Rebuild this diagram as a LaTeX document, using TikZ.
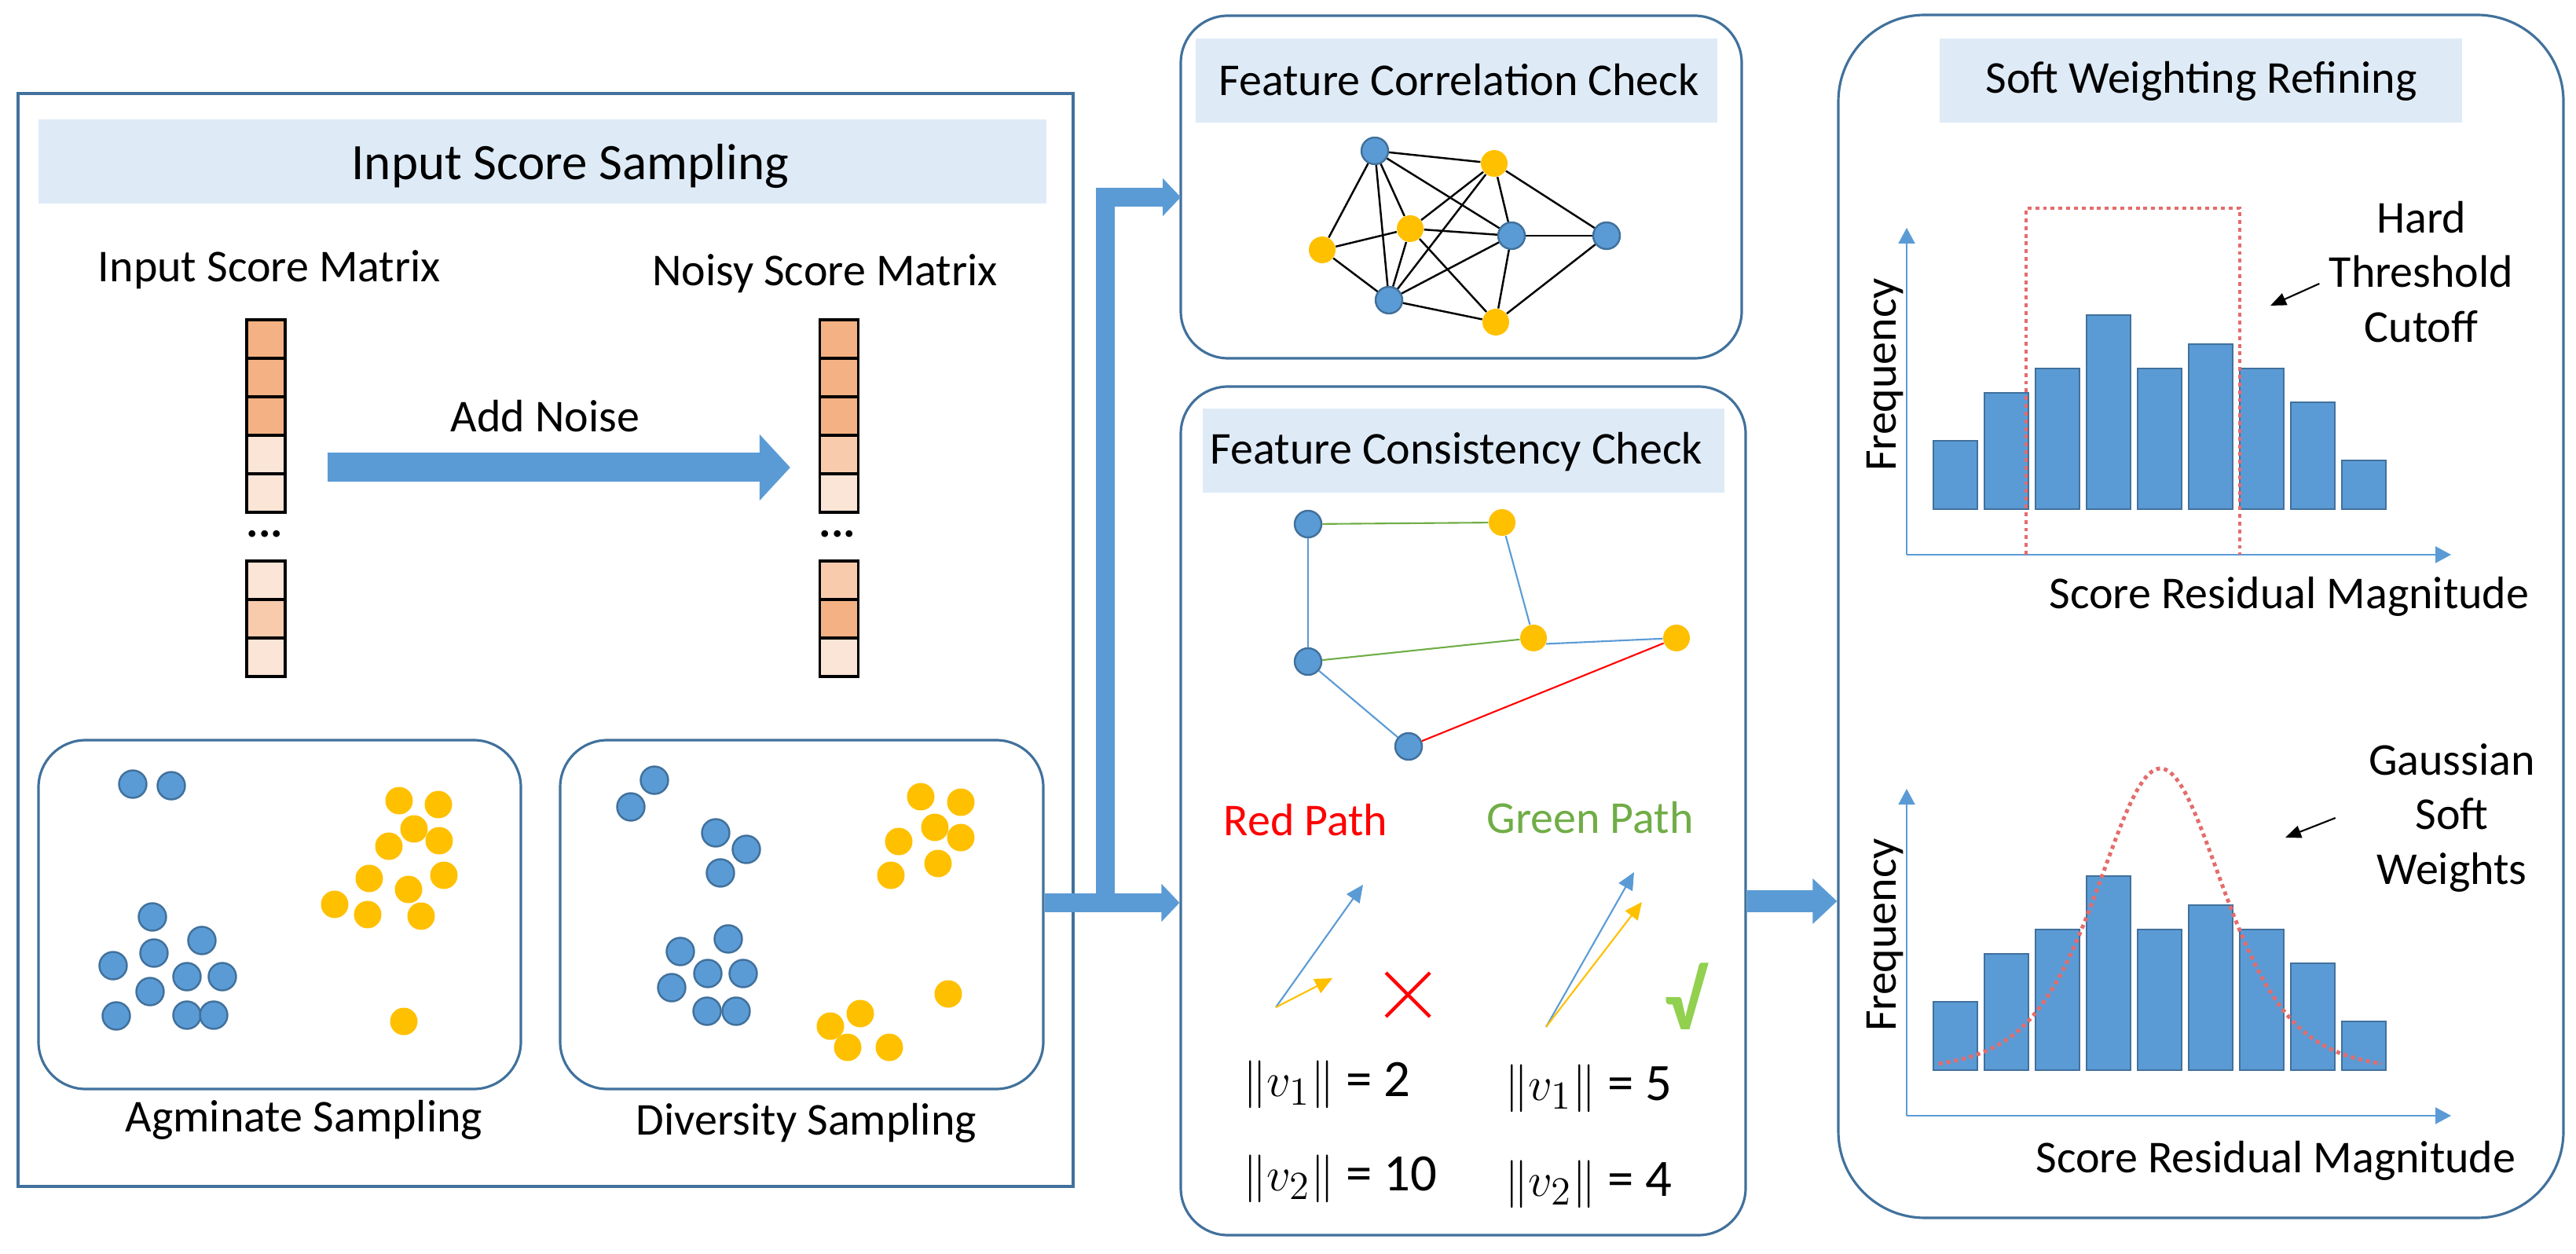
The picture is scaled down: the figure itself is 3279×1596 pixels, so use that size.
\documentclass[tikz,border=0pt]{standalone}
\usepackage{fontspec}
\setmainfont{Carlito}
\usetikzlibrary{arrows.meta,positioning}

\definecolor{boxline}{HTML}{41719C}
\definecolor{bannerfill}{HTML}{DEEBF7}
\definecolor{dotblue}{HTML}{5B9BD5}
\definecolor{dotyellow}{HTML}{FFC000}
\definecolor{cellhi}{HTML}{F4B183}
\definecolor{cellmid}{HTML}{F8CBAD}
\definecolor{celllo}{HTML}{FBE5D6}
\definecolor{pathgreen}{HTML}{70AD47}
\definecolor{checkgreen}{HTML}{92D050}
\definecolor{pathred}{HTML}{FF0000}
\definecolor{cutred}{HTML}{E46C6C}

\begin{document}
\begin{tikzpicture}[x=0.1mm,y=-0.1mm,
  lbl/.style={font=\fontsize{16.5}{19.8}\selectfont},
  title/.style={font=\fontsize{18.5}{22}\selectfont},
  normlbl/.style={font=\fontsize{19}{22}\selectfont,anchor=west},
  panel/.style={draw=boxline,line width=0.9pt,rounded corners=6mm,inner sep=0},
  banner/.style={fill=bannerfill,minimum height=10.7mm,inner sep=0},
  cell/.style={draw=black,line width=0.9pt,minimum size=4.9mm,inner sep=0},
  bdot/.style={circle,fill=dotblue,draw=boxline,line width=0.7pt,minimum size=3.5mm,inner sep=0},
  ydot/.style={circle,fill=dotyellow,minimum size=3.5mm,inner sep=0},
  edge/.style={line width=0.7pt},
  link/.style={line width=0.6pt},
  flow/.style={draw=dotblue,line width=2.4mm,-{Triangle[length=2.3mm,width=4.7mm]}},
  vec/.style={line width=0.6pt,-{Triangle[length=2.2mm,width=2mm]}},
  axis/.style={draw=dotblue,line width=0.6pt,-{Triangle[length=2mm,width=2.1mm]}},
  bar/.style={fill=dotblue,draw=boxline,line width=0.8pt},
  cutoff/.style={draw=cutred,line width=1.4pt,dash pattern=on 1.4pt off 1.4pt},
  pointer/.style={line width=0.6pt,-{Triangle[length=2mm,width=1.6mm]}}
]
\useasboundingbox (0,0) rectangle (3279,1596);

% input score sampling
\node[panel,rounded corners=0,minimum width=134.3mm,minimum height=139.1mm] (sampling) at (694.5,814.5) {};
\node[banner,minimum width=128.3mm] (samplingbar) at (690.5,205.5) {};
\node[title] (samplingtitle) at (726,212) {Input Score Sampling};
\node[lbl] (inlbl) at (343,343) {Input Score Matrix};
\node[lbl] (outlbl) at (1050,348) {Noisy Score Matrix};

\foreach \c [count=\i] in {cellhi,cellhi,cellhi,celllo,celllo}
  \node[cell,fill=\c] (in\i) at (338.5,{431.5+49*(\i-1)}) {};
\foreach \c [count=\i from 6] in {celllo,cellmid,celllo}
  \node[cell,fill=\c] (in\i) at (338.5,{738.5+49*(\i-6)}) {};
\foreach \c [count=\i] in {cellhi,cellhi,cellhi,cellmid,celllo}
  \node[cell,fill=\c] (out\i) at (1068,{431.5+49*(\i-1)}) {};
\foreach \c [count=\i from 6] in {cellmid,cellhi,celllo}
  \node[cell,fill=\c] (out\i) at (1068,{738.5+49*(\i-6)}) {};
\node[lbl] (indots) at (337,680) {\textbf{...}};
\node[lbl] (outdots) at (1066,680) {\textbf{...}};

\draw[flow,line width=3.7mm,-{Triangle[length=3.9mm,width=8.2mm]}]
  ([xshift=5.2mm,yshift=-1.65mm]in4.east) -- ([xshift=-3.6mm,yshift=-1.65mm]out4.west);
\node[lbl] (addnoise) at (694,530) {Add Noise};

\node[panel,minimum width=61.4mm,minimum height=44.4mm] (agbox) at (356,1164) {};
\node[panel,minimum width=61.5mm,minimum height=44.4mm] (divbox) at (1020.5,1164) {};
\node[lbl,below=0mm of agbox,xshift=3.1mm] (aglbl) {Agminate Sampling};
\node[lbl,below=0.4mm of divbox,xshift=0.6mm] (divlbl) {Diversity Sampling};

\foreach \p [count=\i] in {(169,998),(218,1000),(194,1167),(257,1197),(144,1229),(196,1213),
    (238,1243),(283,1243),(191,1262),(148,1293),(238,1292),(272,1292)}
  \node[bdot] (ab\i) at \p {};
\foreach \p [count=\i] in {(508,1019),(558,1024),(527,1055),(495,1077),(559,1070),(470,1118),
    (565,1114),(520,1132),(426,1151),(468,1164),(536,1166),(514,1300)}
  \node[ydot] (ay\i) at \p {};
\foreach \p [count=\i] in {(833,993),(803,1027),(911,1060),(950,1081),(917,1111),(927,1195),
    (866,1211),(901,1239),(946,1239),(855,1257),(900,1287),(937,1287)}
  \node[bdot] (db\i) at \p {};
\foreach \p [count=\i] in {(1172,1014),(1223,1021),(1190,1053),(1144,1071),(1223,1066),(1134,1114),
    (1194,1099),(1207,1265),(1095,1290),(1057,1306),(1079,1333),(1132,1333)}
  \node[ydot] (dy\i) at \p {};

% feature correlation check
\node[panel,minimum width=71.4mm,minimum height=43.6mm] (corrbox) at (1860,238) {};
\node[banner,minimum width=66.4mm] (corrbar) at (1854,102.5) {};
\node[lbl] (corrtitle) at (1857,102) {Feature Correlation Check};

\node[bdot,minimum size=3.4mm] (cb1) at (1750,192) {};
\node[ydot,minimum size=3.4mm] (cy1) at (1902,208) {};
\node[ydot,minimum size=3.4mm] (cy2) at (1683,318) {};
\node[ydot,minimum size=3.4mm] (cy3) at (1795,291) {};
\node[bdot,minimum size=3.4mm] (cb2) at (1924,300) {};
\node[bdot,minimum size=3.4mm] (cb3) at (2045,300) {};
\node[bdot,minimum size=3.4mm] (cb4) at (1768,382) {};
\node[ydot,minimum size=3.4mm] (cy4) at (1904,410) {};
\foreach \a/\b in {cb1/cy1,cb1/cy2,cb1/cb4,cb1/cy3,cb1/cb2,cy1/cy3,cy1/cb4,cy1/cb2,cy1/cb3,
    cy3/cy2,cy3/cb2,cy3/cb4,cy3/cy4,cy2/cb4,cb2/cb3,cb2/cb4,cb2/cy4,cb3/cy4,cb4/cy4}
  \draw[edge] (\a) -- (\b);

% feature consistency check
\node[panel,minimum width=71.9mm,minimum height=108mm] (consbox) at (1862.5,1032) {};
\node[banner,minimum width=66.4mm] (consbar) at (1863,574) {};
\node[lbl] (constitle) at (1854,575) {Feature Consistency Check};

\node[bdot,minimum size=3.4mm] (pb1) at (1665,667) {};
\node[ydot,minimum size=3.4mm] (py1) at (1912,665) {};
\node[bdot,minimum size=3.4mm] (pb2) at (1665,842) {};
\node[ydot,minimum size=3.4mm] (py2) at (1952,812) {};
\node[ydot,minimum size=3.4mm] (py3) at (2134,812) {};
\node[bdot,minimum size=3.4mm] (pb3) at (1793,950) {};
\draw[link,pathgreen] (pb1) -- (py1);
\draw[link,dotblue] (pb1) -- (pb2);
\draw[link,dotblue] (py1) -- (py2);
\draw[link,pathgreen] (pb2) -- (py2);
\draw[link,dotblue] (py2.-25) -- (py3);
\draw[link,dotblue] (pb2) -- (pb3);
\draw[link,pathred] (pb3) -- (py3);

\node[lbl,text=pathred] (redlbl) at (1662,1044) {Red Path};
\node[lbl,text=pathgreen] (greenlbl) at (2024,1041) {Green Path};

\coordinate (redorg) at (1624,1282);
\coordinate (redv1) at (1735,1126);
\coordinate (redv2) at (1696,1245);
\coordinate (greenorg) at (1968,1307);
\coordinate (greenv1) at (2080,1110);
\coordinate (greenv2) at (2090,1148);
\draw[vec,dotblue] (redorg) -- (redv1);
\draw[vec,dotyellow] (redorg) -- (redv2);
\draw[vec,dotblue] (greenorg) -- (greenv1);
\draw[vec,dotyellow] (greenorg) -- (greenv2);
\draw[pathred,line width=1.2pt] (1764,1238) -- (1820,1294) (1764,1294) -- (1820,1238);
\node[text=checkgreen,font=\fontsize{30}{34}\selectfont\bfseries] (check) at (2145,1268) {√};

\node[normlbl] (redn1) at (1570,1380) {$\|v_1\|$ = 2};
\node[normlbl] (redn2) at (1570,1500) {$\|v_2\|$ = 10};
\node[normlbl] (greenn1) at (1903,1385) {$\|v_1\|$ = 5};
\node[normlbl] (greenn2) at (1903,1507) {$\|v_2\|$ = 4};

% soft weighting refining
\node[panel,rounded corners=11mm,minimum width=92.3mm,minimum height=153.1mm] (softbox) at (2801.5,784.5) {};
\node[banner,minimum width=66.5mm] (softbar) at (2801.5,102.5) {};
\node[lbl] (softtitle) at (2802,103) {Soft Weighting Refining};

\foreach \base in {648,1362} {
  \foreach \h [count=\i] in {87,148,179,247,179,210,179,136,62}
    \draw[bar] ({2461+65*(\i-1)},\base) rectangle ++(56,-\h);
}
\coordinate (orgA) at (2427,706);
\coordinate (ytopA) at (2427,290);
\coordinate (xendA) at (3120,706);
\coordinate (orgB) at (2427,1420);
\coordinate (ytopB) at (2427,1004);
\coordinate (xendB) at (3120,1420);
\draw[axis] (orgA) -- (ytopA);
\draw[axis] (orgA) -- (xendA);
\draw[axis] (orgB) -- (ytopB);
\draw[axis] (orgB) -- (xendB);

\draw[cutoff] (2579,706) -- (2579,265) -- (2851,265) -- (2851,706);
\draw[cutoff] plot[domain=-282:282,samples=61,smooth] ({2750+\x},{1362-384/(cosh(\x/108))^2});

\node[lbl,rotate=90] (freqA) at (2400,477) {Frequency};
\node[lbl,rotate=90] (freqB) at (2400,1190) {Frequency};
\node[lbl] (magA) at (2914,759) {Score Residual Magnitude};
\node[lbl] (magB) at (2897,1477) {Score Residual Magnitude};

\node[lbl,align=center] (hardlbl) at (3082,346) {Hard\\Threshold\\Cutoff};
\node[lbl,align=center] (gausslbl) at (3121,1041) {Gaussian\\Soft\\Weights};
\coordinate (hardtip) at (2890,389);
\coordinate (gausstip) at (2909,1066);
\draw[pointer] ([yshift=-1.5mm]hardlbl.west) -- (hardtip);
\draw[pointer] ([xshift=-3mm]gausslbl.west) -- (gausstip);

% links between stages
\coordinate (fork) at (1407,1149);
\coordinate (corrin) at (1503,251);
\draw[flow] (divbox.east |- fork) -- (consbox.west |- fork);
\draw[flow] (fork) |- (corrin);
\draw[flow,line width=2.8mm,-{Triangle[length=3.1mm,width=5.6mm]}]
  (consbox.east |- 0,1147) -- (softbox.west |- 0,1147);
\end{tikzpicture}
\end{document}
